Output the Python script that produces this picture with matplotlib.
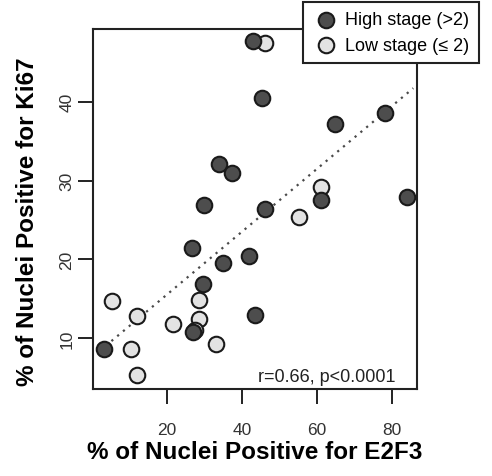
import numpy as np
import matplotlib
matplotlib.use("Agg")
import matplotlib.pyplot as plt

plt.rcParams['font.family'] = ['Liberation Sans', 'DejaVu Sans']

# high stage (>2) tumours: E2F3 %, Ki67 %
high_e2f3 = [42.9, 45.3, 64.8, 78.1, 83.9, 61.1, 46.1, 33.9, 37.3, 29.9,
             26.7, 34.9, 29.5, 41.9, 43.6, 3.3, 27.0]
high_ki67 = [47.7, 40.4, 37.2, 38.6, 27.9, 27.5, 26.4, 32.1, 31.0, 26.9,
             21.4, 19.5, 16.9, 20.4, 13.0, 8.6, 10.8]

# low stage (<=2)
low_e2f3 = [46.1, 61.1, 55.2, 5.4, 11.9, 21.5, 28.6, 28.6, 27.5, 33.1, 10.4, 11.9]
low_ki67 = [47.4, 29.2, 25.4, 14.7, 12.8, 11.8, 14.8, 12.5, 11.0, 9.3, 8.6, 5.3]

# regression line
fit_x = [2.1, 85.7]
fit_slope = 0.398
fit_int = 7.59

xticks = [20, 40, 60, 80]
yticks = [10, 20, 30, 40]

fig = plt.figure(figsize=(4.92, 4.77), dpi=100)
ax = fig.add_axes([93/492, 1-390/477, 324/492, 360/477])

fx = np.array(fit_x)
ax.plot(fx, fit_int + fit_slope*fx, color='#4a4a4a', lw=1.6,
        linestyle=(0, (1, 2.4)), zorder=1)

ax.scatter(high_e2f3, high_ki67, s=125, c='#4d4d4d', edgecolors='#1a1a1a',
           linewidths=1.5, zorder=3, label='High stage (>2)')
ax.scatter(low_e2f3, low_ki67, s=125, c='#e3e3e3', edgecolors='#1a1a1a',
           linewidths=1.5, zorder=2, label='Low stage (≤ 2)')

ax.set_xlim(0.27, 86.7)
ax.set_ylim(3.58, 49.2)
ax.set_xticks(xticks)
ax.set_yticks(yticks)
ax.tick_params(axis='both', direction='out', length=10.5, width=1.4,
               color='#222222', labelsize=12.5, labelcolor='#333333')
ax.tick_params(axis='x', pad=13)
ax.tick_params(axis='y', pad=3)
for lab in ax.get_yticklabels():
    lab.set_rotation(90)
    lab.set_va('center')
for sp in ax.spines.values():
    sp.set_linewidth(1.5)
    sp.set_color('#222222')

ax.set_xlabel('% of Nuclei Positive for E2F3', fontsize=17.5, fontweight='bold',
              va='center')
ax.set_ylabel('% of Nuclei Positive for Ki67', fontsize=17.5, fontweight='bold',
              va='center')
ax.xaxis.set_label_coords(0.5, (390-453)/360)
ax.yaxis.set_label_coords((28-93)/324, (390-222)/360)

ax.text(0.72, 0.035, 'r=0.66, p<0.0001', transform=ax.transAxes,
        ha='center', va='center', fontsize=13, color='#222222')

leg = fig.legend(loc='upper right', bbox_to_anchor=(479/492, 1-3/477),
                 fontsize=13, frameon=True, fancybox=False, framealpha=1,
                 edgecolor='#222222', handlelength=1.5, handletextpad=0.35,
                 borderpad=0.52, labelspacing=0.45, borderaxespad=0,
                 scatterpoints=1)
leg.get_frame().set_linewidth(1.5)

fig.savefig('out.png', dpi=100)
